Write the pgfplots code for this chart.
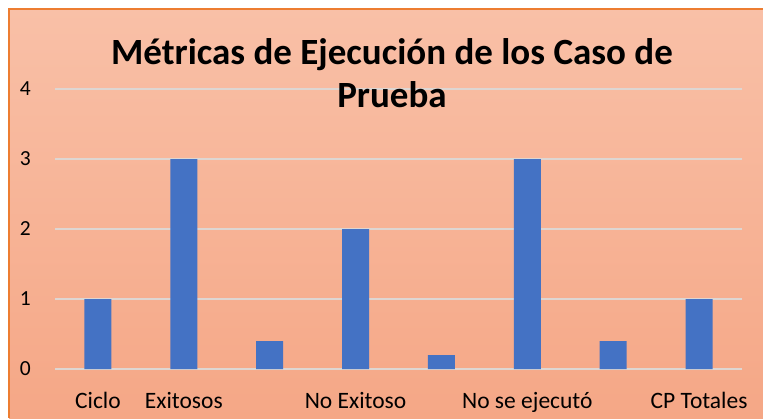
\documentclass[border=0pt]{standalone}
\usepackage{pgfplots}
\pgfplotsset{compat=1.18}
\usepackage{fontspec}
\setmainfont{Carlito}
\definecolor{barblue}{RGB}{68,114,196}
\definecolor{bgtop}{RGB}{249,192,167}
\definecolor{bgbot}{RGB}{245,167,134}
\definecolor{bordr}{RGB}{237,125,49}
\definecolor{gridc}{RGB}{222,214,210}
\begin{document}
\begin{tikzpicture}[x=1pt,y=1pt]
\useasboundingbox (0,0) rectangle (763,418);
\fill[white] (0,0) rectangle (763,418);
\shade[top color=bgtop, bottom color=bgbot] (9,0) rectangle (763,409);
\draw[bordr, line width=2pt] (9,0) -- (9,409) -- (763,409);
\begin{axis}[
    at={(55pt,49pt)}, anchor=south west,
    scale only axis,
    width=687pt, height=280pt,
    xmin=-0.5, xmax=7.5, ymin=0, ymax=4,
    axis line style={draw=none},
    major tick length=0pt,
    ytick={0,1,2,3,4},
    ymajorgrids, grid style={gridc, line width=1.5pt},
    xtick={0,...,7},
    xticklabels={Ciclo, Exitosos, , No Exitoso, , No se ejecutó, , CP Totales},
    xticklabel style={font=\fontsize{23.5}{27}\selectfont, anchor=base, yshift=-39pt, inner sep=0pt},
    yticklabel style={font=\fontsize{21.5}{25}\selectfont, anchor=east, xshift=-24pt, inner sep=0pt},
    /pgf/number format/assume math mode=true,
    clip=false,
]
\addplot[ybar, bar width=27pt, fill=barblue, draw=none]
    coordinates {(0,1) (1,3) (2,0.4) (3,2) (4,0.2) (5,3) (6,0.4) (7,1)};
\end{axis}
\node[font=\fontsize{37}{43}\selectfont\bfseries, align=center, anchor=base]
  at (392,310) {Métricas de Ejecución de los Caso de\\Prueba};
\end{tikzpicture}
\end{document}
